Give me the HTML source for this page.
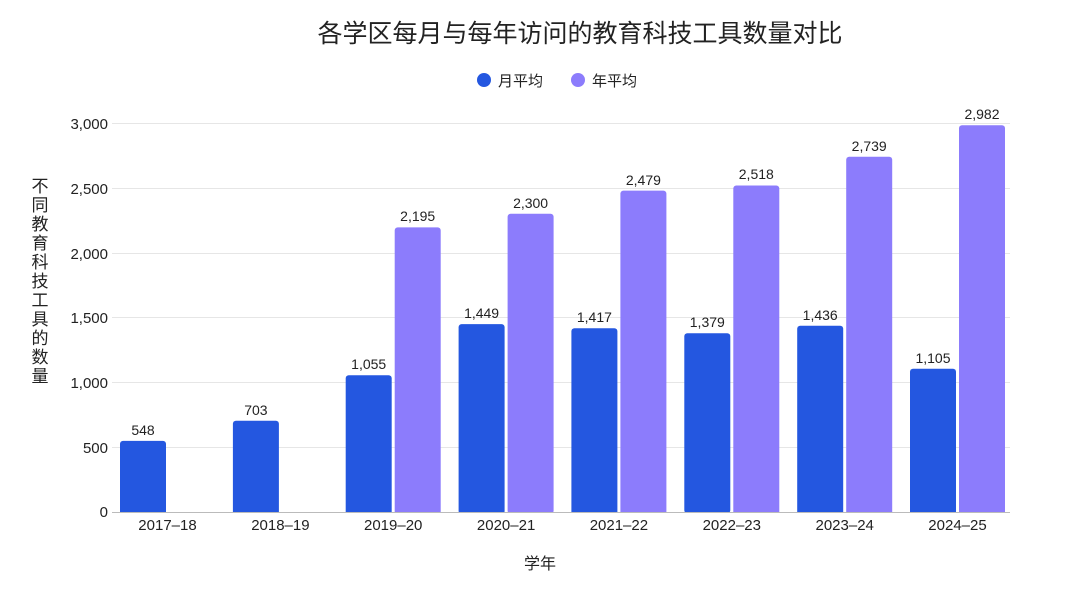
<!DOCTYPE html>
<html><head><meta charset="utf-8"><style>
body{margin:0;background:#fff;}
svg text{font-family:"Liberation Sans","Noto Sans CJK SC",sans-serif;fill:#222;}
</style></head><body>
<svg width="1080" height="608" xmlns="http://www.w3.org/2000/svg">
<rect width="1080" height="608" fill="#fff"/>
<text x="580" y="42" font-size="25" text-anchor="middle" fill="#111">各学区每月与每年访问的教育科技工具数量对比</text>
<circle cx="484" cy="80" r="7" fill="#2457e0"/>
<text x="498" y="86" font-size="15">月平均</text>
<circle cx="578" cy="80" r="7" fill="#8c7cfc"/>
<text x="592" y="86" font-size="15">年平均</text>
<g stroke="#e6e6e6" stroke-width="1">
<line x1="112" x2="1010" y1="123.5" y2="123.5"/>
<line x1="112" x2="1010" y1="188.5" y2="188.5"/>
<line x1="112" x2="1010" y1="253.5" y2="253.5"/>
<line x1="112" x2="1010" y1="317.5" y2="317.5"/>
<line x1="112" x2="1010" y1="382.5" y2="382.5"/>
<line x1="112" x2="1010" y1="447.5" y2="447.5"/>
</g>
<g font-size="17" text-anchor="middle">
<text x="40" y="192">不</text><text x="40" y="211">同</text><text x="40" y="230">教</text><text x="40" y="249">育</text><text x="40" y="268">科</text><text x="40" y="287">技</text><text x="40" y="306">工</text><text x="40" y="325">具</text><text x="40" y="344">的</text><text x="40" y="363">数</text><text x="40" y="382">量</text>
</g>
<text x="540" y="569" font-size="16" text-anchor="middle">学年</text>
<g fill="#2457e0">
<rect x="120" y="440.9" width="46" height="75" rx="3"/>
<rect x="232.9" y="420.8" width="46" height="95" rx="3"/>
<rect x="345.7" y="375.2" width="46" height="140" rx="3"/>
<rect x="458.6" y="324.1" width="46" height="190" rx="3"/>
<rect x="571.4" y="328.3" width="46" height="190" rx="3"/>
<rect x="684.3" y="333.2" width="46" height="180" rx="3"/>
<rect x="797.2" y="325.8" width="46" height="190" rx="3"/>
<rect x="910" y="368.7" width="46" height="150" rx="3"/>
</g>
<g fill="#8c7cfc">
<rect x="394.7" y="227.4" width="46" height="290" rx="3"/>
<rect x="507.6" y="213.8" width="46" height="300" rx="3"/>
<rect x="620.4" y="190.6" width="46" height="325" rx="3"/>
<rect x="733.3" y="185.5" width="46" height="330" rx="3"/>
<rect x="846.2" y="156.8" width="46" height="360" rx="3"/>
<rect x="959" y="125.3" width="46" height="390" rx="3"/>
</g>
<rect x="112" y="512" width="908" height="20" fill="#fff"/>
<line x1="112" x2="1010" y1="512.5" y2="512.5" stroke="#bbb"/>
<g font-size="15" text-anchor="end">
<text x="108" y="129">3,000</text>
<text x="108" y="194">2,500</text>
<text x="108" y="259">2,000</text>
<text x="108" y="323">1,500</text>
<text x="108" y="388">1,000</text>
<text x="108" y="453">500</text>
<text x="108" y="517">0</text>
</g>
<g font-size="14" text-anchor="middle">
<text x="143" y="435">548</text>
<text x="255.9" y="415">703</text>
<text x="368.7" y="369">1,055</text>
<text x="481.6" y="318">1,449</text>
<text x="594.4" y="322">1,417</text>
<text x="707.3" y="327">1,379</text>
<text x="820.2" y="320">1,436</text>
<text x="933" y="363">1,105</text>
<text x="417.7" y="221">2,195</text>
<text x="530.6" y="208">2,300</text>
<text x="643.4" y="185">2,479</text>
<text x="756.3" y="179">2,518</text>
<text x="869.2" y="151">2,739</text>
<text x="982" y="119">2,982</text>
</g>
<g font-size="15" text-anchor="middle">
<text x="167.5" y="530">2017–18</text>
<text x="280.4" y="530">2018–19</text>
<text x="393.2" y="530">2019–20</text>
<text x="506.1" y="530">2020–21</text>
<text x="618.9" y="530">2021–22</text>
<text x="731.8" y="530">2022–23</text>
<text x="844.7" y="530">2023–24</text>
<text x="957.5" y="530">2024–25</text>
</g>
</svg>
</body></html>
